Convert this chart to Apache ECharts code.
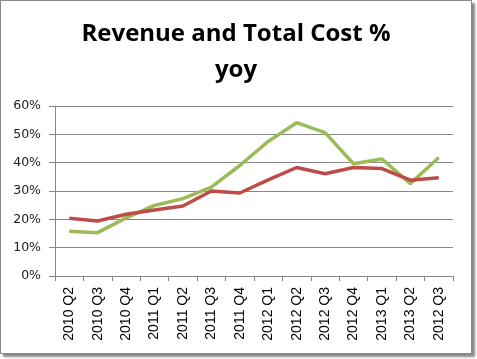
<!DOCTYPE html>
<html><head><meta charset="utf-8">
<script src="https://cdn.jsdelivr.net/npm/echarts@6/dist/echarts.min.js"></script>
<style>
html,body{margin:0;padding:0;background:#fff;}
#wrap{position:absolute;left:0;top:0;width:470px;height:352px;border:1px solid #8a8a8a;box-shadow:3px 3px 2px #8a8a8a;background:#fff;}
#c{width:470px;height:352px;}
</style>
</head><body>
<div id="wrap"><div id="c"></div></div>
<script>
const categories = ['2010 Q2','2010 Q3','2010 Q4','2011 Q1','2011 Q2','2011 Q3','2011 Q4','2012 Q1','2012 Q2','2012 Q3','2012 Q4','2013 Q1','2013 Q2','2012 Q3'];
const revenue = [15.8,15.3,20.5,24.9,27.3,31.4,39.0,47.5,54.1,50.6,39.6,41.3,32.6,41.8];
const totalCost = [20.4,19.4,21.8,23.3,24.7,30.0,29.3,33.9,38.3,36.1,38.3,37.9,33.8,34.7];
const yTicks = {min:0, max:60, interval:10};

const chart = echarts.init(document.getElementById('c'));
chart.setOption({
  animation:false,
  title:{text:'Revenue and Total Cost %\nyoy', left:'center', top:10,
    textStyle:{fontFamily:'Open Sans', fontWeight:'bold', fontSize:24, color:'#000', lineHeight:36}},
  grid:{left:54, right:18, top:105, bottom:77},
  xAxis:{type:'category', data:categories, boundaryGap:true,
    axisLine:{lineStyle:{color:'#868686', width:1}},
    axisTick:{show:true, length:5, alignWithLabel:false, lineStyle:{color:'#868686'}},
    axisLabel:{rotate:90, interval:0, margin:11, fontFamily:'Liberation Sans', fontSize:14, color:'#000'}},
  yAxis:{type:'value', min:yTicks.min, max:yTicks.max, interval:yTicks.interval,
    axisLine:{show:true, lineStyle:{color:'#868686'}},
    axisTick:{show:true, length:6, lineStyle:{color:'#868686'}},
    splitLine:{lineStyle:{color:'#868686', width:1}},
    axisLabel:{formatter:'{value}%', margin:14, fontFamily:'DejaVu Sans', fontSize:12.5, color:'#1a1a1a'}},
  series:[
    {name:'Revenue', type:'line', data:revenue, symbol:'none', lineStyle:{color:'#9BBB59', width:3.5}, itemStyle:{color:'#9BBB59'}},
    {name:'Total Cost', type:'line', data:totalCost, symbol:'none', lineStyle:{color:'#BE4B48', width:3.5}, itemStyle:{color:'#BE4B48'}}
  ]
});
</script>
</body></html>
